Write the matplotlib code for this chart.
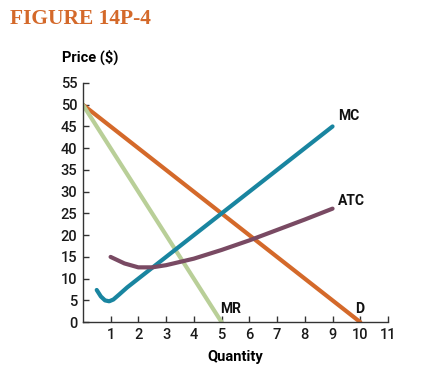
import matplotlib
matplotlib.use("Agg")
import matplotlib.pyplot as plt
import numpy as np

# chart data
d_q = [0, 10]
d_p = [50, 0]
mr_q = [0, 5]
mr_p = [50, 0]
mc_q = [0.5, 0.65, 0.8, 0.95, 1.1, 1.3, 1.6, 2.0, 3.0, 5.0, 7.0, 9.0]
mc_p = [7.4, 5.9, 5.0, 4.8, 5.2, 6.3, 8.0, 10.0, 15.0, 25.0, 35.0, 45.0]
atc_q = [1.0, 1.5, 2.0, 2.5, 3.0, 4.0, 5.0, 6.0, 7.0, 8.0, 9.0]
atc_p = [15.0, 13.5, 12.6, 12.6, 13.1, 14.6, 16.6, 18.8, 21.2, 23.6, 26.1]
x_ticks = list(range(1, 12))
y_ticks = list(range(0, 56, 5))

sans = ["Liberation Sans Narrow", "Roboto", "DejaVu Sans"]

fig = plt.figure(figsize=(4.36, 3.72), dpi=100)
ax = fig.add_axes([0.190, 0.134, 0.700, 0.643])

ax.plot(d_q, d_p, color="#d4692a", lw=3.0, solid_capstyle="round")
ax.plot(mr_q, mr_p, color="#b9cf98", lw=3.0, solid_capstyle="round")
ax.plot(mc_q, mc_p, color="#1985a0", lw=3.0, solid_capstyle="round")
ax.plot(atc_q, atc_p, color="#794a63", lw=3.0, solid_capstyle="round")

lab = dict(fontsize=10, fontweight="bold", family=sans, color="#111111")
ax.text(9.2, 46.5, "MC", **lab)
ax.text(9.2, 27.0, "ATC", **lab)
ax.text(4.95, 2.0, "MR", **lab)
ax.text(9.8, 2.0, "D", **lab)

ax.set_xlim(0, 11)
ax.set_ylim(0, 55)
ax.set_xticks(x_ticks)
ax.set_yticks(y_ticks)
for s in ["top", "right"]:
    ax.spines[s].set_visible(False)
for s in ["left", "bottom"]:
    ax.spines[s].set_color("#333333")
    ax.spines[s].set_linewidth(1.0)
ax.tick_params(direction="in", length=4, width=1, color="#333333",
               labelsize=10.5, pad=4, labelcolor="#1a1a1a")
for t in ax.get_xticklabels() + ax.get_yticklabels():
    t.set_family(sans)
    t.set_fontweight("medium")
ax.set_xlabel("Quantity", fontsize=10.5, fontweight="bold", family=sans, labelpad=6)
fig.text(0.142, 0.835, "Price ($)", fontsize=10.5, fontweight="bold", family=sans)

fig.text(0.023, 0.935, "FIGURE 14P-4", fontsize=15.5, fontweight="bold",
         family=["Liberation Serif", "DejaVu Serif"], color="#d4692a")

fig.savefig("out.png", dpi=100)
